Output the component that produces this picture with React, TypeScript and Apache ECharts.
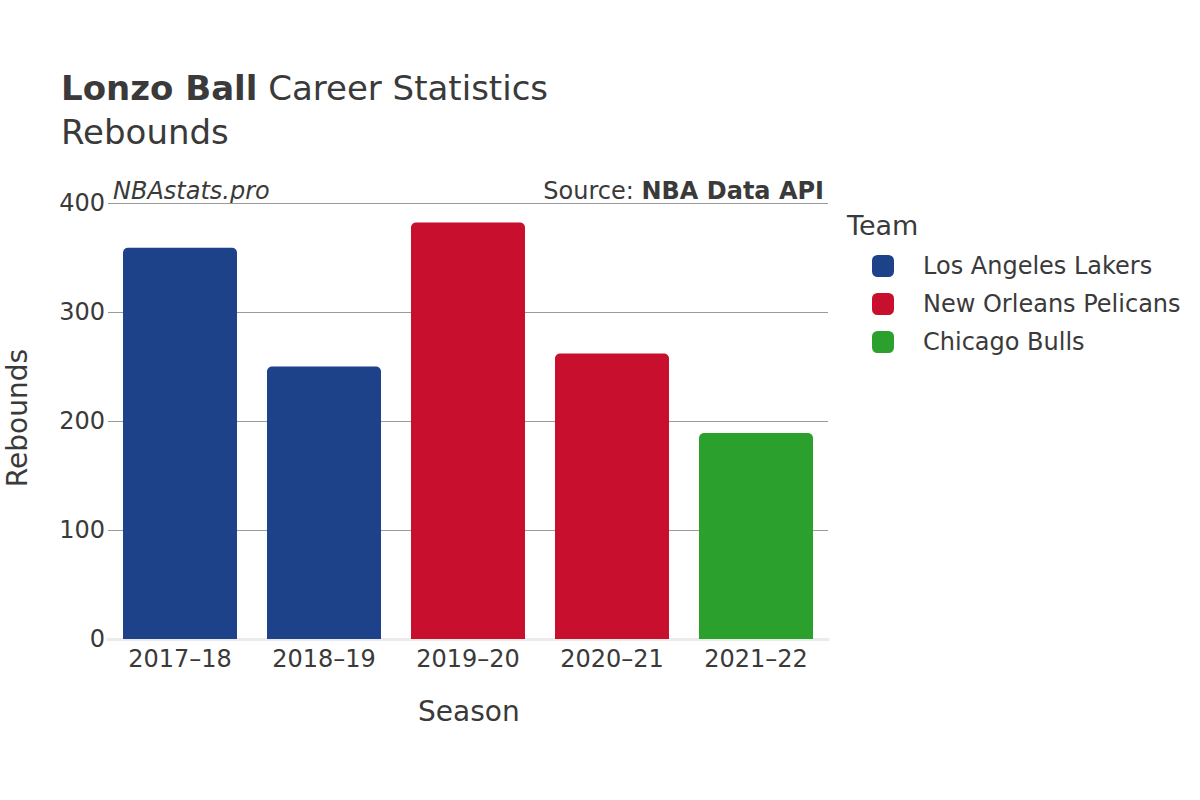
import React, { useEffect, useRef } from "react";
import * as echarts from "echarts";

const seasons = ["2017–18", "2018–19", "2019–20", "2020–21", "2021–22"];
const teams = ["Los Angeles Lakers", "New Orleans Pelicans", "Chicago Bulls"];
const teamColors = ["#1D428A", "#C8102E", "#2CA02C"];
const seasonTeam = [0, 0, 1, 1, 2];
const rebounds = [359, 250, 382, 262, 189];
const yTicks = [0, 100, 200, 300, 400];

const FONT = "DejaVu Sans";

export default function App() {
  const ref = useRef<HTMLDivElement>(null);
  useEffect(() => {
    if (!ref.current) return;
    const chart = echarts.init(ref.current, null, { renderer: "svg" });
    const series = teams.map((team, ti) => ({
      name: team,
      type: "bar",
      stack: "all",
      barWidth: 114,
      itemStyle: { color: teamColors[ti], borderRadius: [5, 5, 0, 0] },
      data: rebounds.map((v, i) => (seasonTeam[i] === ti ? v : "-")),
    }));
    chart.setOption({
      animation: false,
      textStyle: { fontFamily: FONT },
      grid: { left: 108, right: 372, top: 203, bottom: 161, containLabel: false },
      xAxis: {
        type: "category",
        data: seasons,
        axisLine: { show: true, lineStyle: { color: "#ebebeb", width: 3 } },
        axisTick: { show: false },
        axisLabel: { color: "#3a3a3a", fontSize: 24, margin: 8, fontFamily: FONT },
      },
      yAxis: {
        type: "value",
        min: yTicks[0],
        max: yTicks[yTicks.length - 1],
        interval: 100,
        axisLine: { show: false },
        axisTick: { show: false },
        splitLine: { lineStyle: { color: "#9a9a9a", width: 1 } },
        axisLabel: { color: "#3a3a3a", fontSize: 24, margin: 3, fontFamily: FONT },
      },
      legend: {
        orient: "vertical",
        left: 872,
        top: 254,
        padding: 0,
        itemWidth: 22,
        itemHeight: 22,
        itemGap: 14,
        icon: "roundRect",
        data: teams,
        textStyle: { fontSize: 24, color: "#3a3a3a", fontFamily: FONT, padding: [0, 0, 0, 24] },
      },
      series,
      graphic: [
        {
          type: "text",
          left: 61,
          top: 71,
          style: {
            text: "{b|Lonzo Ball} Career Statistics",
            fontSize: 34,
            fontFamily: FONT,
            fill: "#3a3a3a",
            rich: {
              b: { fontSize: 34, fontWeight: "bold", fontFamily: FONT, fill: "#3a3a3a" },
            },
          },
        },
        {
          type: "text",
          left: 61,
          top: 115,
          style: { text: "Rebounds", fontSize: 34, fontFamily: FONT, fill: "#3a3a3a" },
        },
        {
          type: "text",
          left: 113,
          top: 179,
          style: { text: "NBAstats.pro", fontSize: 24, fontStyle: "italic", fontFamily: FONT, fill: "#3a3a3a" },
        },
        {
          type: "text",
          right: 376,
          top: 179,
          style: {
            text: "Source: {b|NBA Data API}",
            fontSize: 24,
            fontFamily: FONT,
            fill: "#3a3a3a",
            rich: { b: { fontSize: 24, fontWeight: "bold", fontFamily: FONT, fill: "#3a3a3a" } },
          },
        },
        {
          type: "text",
          left: 847,
          top: 212,
          style: { text: "Team", fontSize: 27, fontFamily: FONT, fill: "#3a3a3a" },
        },
        {
          type: "text",
          left: 418,
          top: 697,
          style: { text: "Season", fontSize: 28, fontFamily: FONT, fill: "#3a3a3a" },
        },
        {
          type: "text",
          left: 3,
          top: 349,
          rotation: Math.PI / 2,
          style: { text: "Rebounds", fontSize: 28, fontFamily: FONT, fill: "#3a3a3a" },
        },
      ],
    });
    return () => chart.dispose();
  }, []);
  return (
    <div
      ref={ref}
      style={{ position: "absolute", left: 0, top: 0, width: 1200, height: 800, background: "#fff" }}
    />
  );
}
